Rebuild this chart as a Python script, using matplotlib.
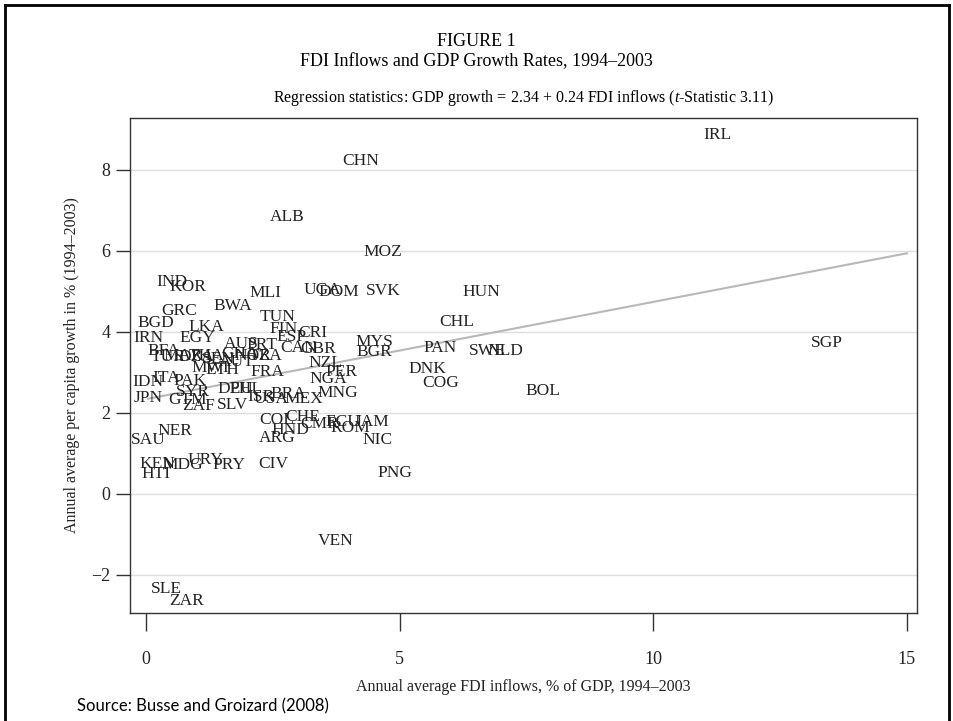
import numpy as np
import matplotlib.pyplot as plt
from matplotlib.lines import Line2D

# country codes and values
codes = ["IRL", "CHN", "ALB", "MOZ", "IND", "KOR", "MLI", "UGA", "DOM", "SVK",
         "HUN", "GRC", "BWA", "TUN", "BGD", "LKA", "CHL", "FIN", "ESP", "CRI",
         "IRN", "EGY", "AUS", "PRT", "CAN", "GBR", "MYS", "BGR", "PAN", "SWE",
         "NLD", "SGP", "DNK", "COG", "BOL", "NZL", "PER", "NGA", "MNG", "BFA",
         "TUR", "MAR", "DZA", "THA", "SEN", "MWI", "ETH", "AUT", "GHA", "NOR",
         "TZA", "FRA", "IDN", "ITA", "PAK", "JPN", "SYR", "GTM", "ZAF", "SLV",
         "DEU", "PHL", "ISR", "USA", "BRA", "MEX", "COL", "CHE", "CMR", "ECU",
         "JAM", "ROM", "HND", "ARG", "NIC", "NER", "SAU", "KEN", "HTI", "MDG",
         "URY", "PRY", "CIV", "PNG", "VEN", "SLE", "ZAR"]
fdi = [11.26, 4.24, 2.78, 4.67, 0.51, 0.83, 2.35, 3.47, 3.80, 4.67,
       6.62, 0.65, 1.71, 2.60, 0.20, 1.18, 6.13, 2.72, 2.86, 3.29,
       0.04, 1.01, 1.87, 2.29, 3.00, 3.39, 4.51, 4.51, 5.80, 6.72,
       7.08, 13.42, 5.54, 5.81, 7.83, 3.53, 3.86, 3.59, 3.78, 0.35,
       0.43, 0.73, 0.99, 1.20, 1.42, 1.26, 1.50, 1.79, 1.85, 2.11,
       2.35, 2.40, 0.04, 0.39, 0.87, 0.04, 0.93, 0.81, 1.03, 1.70,
       1.77, 1.97, 2.27, 2.46, 2.80, 3.11, 2.58, 3.08, 3.43, 3.88,
       4.45, 4.02, 2.84, 2.58, 4.57, 0.57, 0.04, 0.22, 0.20, 0.73,
       1.18, 1.64, 2.50, 4.91, 3.73, 0.41, 0.79]
growth = [8.86, 8.22, 6.84, 5.98, 5.23, 5.11, 4.96, 5.04, 4.99, 5.01,
          4.99, 4.52, 4.64, 4.37, 4.22, 4.12, 4.25, 4.07, 3.88, 3.98,
          3.85, 3.85, 3.70, 3.68, 3.60, 3.58, 3.75, 3.51, 3.60, 3.53,
          3.53, 3.73, 3.09, 2.74, 2.54, 3.23, 3.01, 2.84, 2.49, 3.53,
          3.38, 3.41, 3.38, 3.41, 3.33, 3.11, 3.06, 3.26, 3.46, 3.41,
          3.41, 3.01, 2.77, 2.86, 2.79, 2.37, 2.52, 2.32, 2.17, 2.20,
          2.59, 2.59, 2.40, 2.35, 2.47, 2.35, 1.83, 1.90, 1.73, 1.78,
          1.78, 1.63, 1.58, 1.38, 1.33, 1.56, 1.33, 0.74, 0.49, 0.72,
          0.84, 0.72, 0.74, 0.52, -1.16, -2.35, -2.64]

intercept, slope = 2.34, 0.24
xticks = [0, 5, 10, 15]
yticks = [-2, 0, 2, 4, 6, 8]

plt.rcParams['font.family'] = ['Liberation Serif', 'DejaVu Serif']
plt.rcParams['mathtext.fontset'] = 'custom'
plt.rcParams['mathtext.it'] = 'Liberation Serif:italic'
plt.rcParams['mathtext.rm'] = 'Liberation Serif'

fig = plt.figure(figsize=(9.54, 7.21), dpi=100)
ax = fig.add_axes([130 / 954, 1 - 613 / 721, 787 / 954, 495 / 721])

# regression line
xs = np.array([min(fdi), 15])
ax.plot(xs, intercept + slope * xs, color='#b8b8b8', lw=1.5, zorder=1)

# country labels centred on the points
for c, x, y in zip(codes, fdi, growth):
    ax.text(x, y, c, ha='center', va='center', fontsize=12.5, color='#222222', zorder=3)

ax.set_xlim(-0.315, 15.2)
ax.set_ylim(-2.94, 9.28)
ax.set_xticks(xticks)
ax.set_yticks(yticks)
ax.set_yticklabels([str(t).replace('-', '\u2212') for t in yticks])
ax.grid(axis='y', color='#dedede', lw=1)
ax.set_axisbelow(True)
ax.tick_params(axis='both', width=1, labelsize=13, color='#333333', labelcolor='#222222')
ax.tick_params(axis='y', length=10, pad=4)
ax.tick_params(axis='x', length=13, pad=14)
for s in ax.spines.values():
    s.set_color('#333333')
    s.set_linewidth(1)

ax.set_xlabel('Annual average FDI inflows, % of GDP, 1994\u20132003', fontsize=11.5, color='#222222', labelpad=8)
ax.set_ylabel('Annual average per capita growth in % (1994\u20132003)', fontsize=11.5, color='#222222', labelpad=8)

fig.text(0.499, 1 - 42 / 721, 'FIGURE 1', ha='center', va='center', fontsize=13)
fig.text(0.499, 1 - 62 / 721, 'FDI Inflows and GDP Growth Rates, 1994\u20132003', ha='center', va='center', fontsize=13)
fig.text(524 / 954, 1 - 98 / 721,
         'Regression statistics: GDP growth = 2.34 + 0.24 FDI inflows ($t$-Statistic 3.11)',
         ha='center', va='center', fontsize=11.5)

fig.text(77 / 954, 1 - 706 / 721, 'Source: Busse and Groizard (2008)', ha='left', va='center',
         fontsize=12, family=['Lato', 'DejaVu Sans'])

# outer border
for xd, yd in [([5 / 954, 5 / 954], [0, 1 - 5 / 721]),
               ([5 / 954, 949 / 954], [1 - 5 / 721, 1 - 5 / 721]),
               ([949 / 954, 949 / 954], [0, 1 - 5 / 721])]:
    fig.add_artist(Line2D(xd, yd, transform=fig.transFigure, color='black', lw=2))

fig.savefig('out.png', dpi=100)
